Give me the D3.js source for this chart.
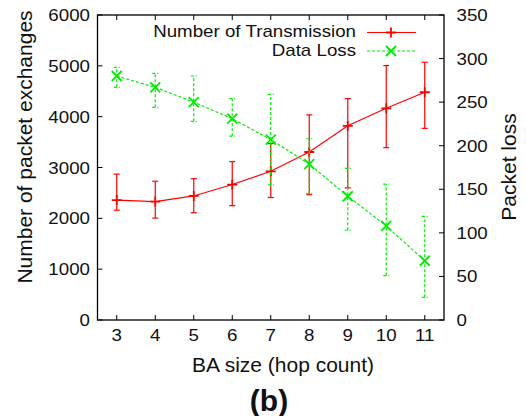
<!DOCTYPE html>
<html>
<head>
<meta charset="utf-8">
<script src="https://cdn.jsdelivr.net/npm/d3@7"></script>
<style>
body { margin: 0; background: #fff; }
text { font-family: "Liberation Sans", Arial, sans-serif; fill: #111; }
</style>
</head>
<body>
<svg id="chart" width="526" height="416"></svg>
<script>
// data
var hops = [3, 4, 5, 6, 7, 8, 9, 10, 11];
var transMean = [2360, 2330, 2440, 2665, 2925, 3305, 3820, 4165, 4480];
var transLow  = [2160, 2005, 2110, 2250, 2410, 2465, 2600, 3390, 3770];
var transHigh = [2870, 2730, 2780, 3115, 3470, 4035, 4355, 5005, 5070];
var lossMean = [280, 267, 250, 231, 207, 179, 142, 108, 68];
var lossLow  = [267, 244, 228, 211, 155, 145, 103, 51, 26];
var lossHigh = [290, 283, 280, 254, 259, 208, 174, 156, 119];
var leftTicks = [0, 1000, 2000, 3000, 4000, 5000, 6000];
var rightTicks = [0, 50, 100, 150, 200, 250, 300, 350];

var plotL = 97.5, plotR = 444, plotT = 15, plotB = 320;
var svg = d3.select("#chart");
var stretch = 1.17;

var x = d3.scaleLinear().domain([2.5, 11.5]).range([plotL, plotR]);
var yL = d3.scaleLinear().domain([0, 6000]).range([plotB, plotT]);
var yR = d3.scaleLinear().domain([0, 350]).range([plotB, plotT]);

function label(g, tx, ty, str, anchor, size) {
  g.append("text")
    .attr("transform", "translate(" + tx + "," + ty + ") scale(" + stretch + ",1)")
    .attr("text-anchor", anchor)
    .attr("font-size", size)
    .text(str);
}

// ticks (gnuplot style, inward)
var tk = svg.append("g").attr("stroke", "#000").attr("stroke-width", 1);
hops.forEach(function(h){
  tk.append("line").attr("x1", x(h)).attr("x2", x(h)).attr("y1", plotB).attr("y2", plotB - 5);
  tk.append("line").attr("x1", x(h)).attr("x2", x(h)).attr("y1", plotT).attr("y2", plotT + 5);
  label(svg, x(h), 341, h, "middle", 16);
});
leftTicks.forEach(function(v){
  tk.append("line").attr("x1", plotL).attr("x2", plotL + 5).attr("y1", yL(v)).attr("y2", yL(v));
  label(svg, 90, yL(v) + 6, v, "end", 16);
});
rightTicks.forEach(function(v){
  tk.append("line").attr("x1", plotR).attr("x2", plotR - 5).attr("y1", yR(v)).attr("y2", yR(v));
  label(svg, 456.5, yR(v) + 6, v, "start", 16);
});

svg.append("rect")
  .attr("x", plotL).attr("y", plotT)
  .attr("width", plotR - plotL).attr("height", plotB - plotT)
  .attr("fill", "none").attr("stroke", "#000").attr("stroke-width", 1.3);

// axis titles
svg.append("text").attr("x", 283).attr("y", 371.5).attr("text-anchor", "middle")
  .attr("font-size", 21).text("BA size (hop count)");
svg.append("text").attr("x", 269).attr("y", 411).attr("text-anchor", "middle")
  .attr("font-size", 30).attr("font-weight", "bold").text("(b)");
svg.append("text").attr("transform", "translate(32,147) rotate(-90)")
  .attr("text-anchor", "middle").attr("font-size", 21).text("Number of packet exchanges");
svg.append("text").attr("transform", "translate(516,167) rotate(-90)")
  .attr("text-anchor", "middle").attr("font-size", 21).text("Packet loss");

var red = "#ff0000", green = "#00ee00";
var cap = 3;

function errBars(g, lo, hi, y, color, dash) {
  hops.forEach(function(h, i){
    var e = g.append("g").attr("stroke", color).attr("stroke-width", 1.2)
      .attr("stroke-dasharray", dash);
    e.append("line").attr("x1", x(h)).attr("x2", x(h)).attr("y1", y(lo[i])).attr("y2", y(hi[i]));
    e.append("line").attr("x1", x(h) - cap).attr("x2", x(h) + cap).attr("y1", y(lo[i])).attr("y2", y(lo[i]));
    e.append("line").attr("x1", x(h) - cap).attr("x2", x(h) + cap).attr("y1", y(hi[i])).attr("y2", y(hi[i]));
  });
}

function plus(g, cx, cy) {
  g.append("path").attr("d", "M" + (cx - 5) + "," + cy + "H" + (cx + 5) + "M" + cx + "," + (cy - 5) + "V" + (cy + 5))
    .attr("stroke", red).attr("stroke-width", 1.8).attr("fill", "none");
}
function cross(g, cx, cy) {
  var s = 5;
  g.append("path").attr("d", "M" + (cx - s) + "," + (cy - s) + "L" + (cx + s) + "," + (cy + s) +
      "M" + (cx - s) + "," + (cy + s) + "L" + (cx + s) + "," + (cy - s))
    .attr("stroke", green).attr("stroke-width", 1.8).attr("fill", "none");
}

var plot = svg.append("g");

// transmissions (left axis)
errBars(plot, transLow, transHigh, yL, red, null);
plot.append("path")
  .datum(transMean)
  .attr("d", d3.line().x(function(d, i){ return x(hops[i]); }).y(function(d){ return yL(d); }))
  .attr("fill", "none").attr("stroke", red).attr("stroke-width", 1.2);
transMean.forEach(function(d, i){ plus(plot, x(hops[i]), yL(d)); });

// data loss (right axis)
errBars(plot, lossLow, lossHigh, yR, green, "3,2");
plot.append("path")
  .datum(lossMean)
  .attr("d", d3.line().x(function(d, i){ return x(hops[i]); }).y(function(d){ return yR(d); }))
  .attr("fill", "none").attr("stroke", green).attr("stroke-width", 1.2).attr("stroke-dasharray", "3,2");
lossMean.forEach(function(d, i){ cross(plot, x(hops[i]), yR(d)); });

// legend
var lg = svg.append("g");
label(lg, 356, 37, "Number of Transmission", "end", 16);
label(lg, 356, 56, "Data Loss", "end", 16);
lg.append("line").attr("x1", 367).attr("x2", 416).attr("y1", 32.5).attr("y2", 32.5)
  .attr("stroke", red).attr("stroke-width", 1.2);
plus(lg, 391, 32.5);
lg.append("line").attr("x1", 367).attr("x2", 416).attr("y1", 51).attr("y2", 51)
  .attr("stroke", green).attr("stroke-width", 1.2).attr("stroke-dasharray", "3,2");
cross(lg, 391, 51);
</script>
</body>
</html>
